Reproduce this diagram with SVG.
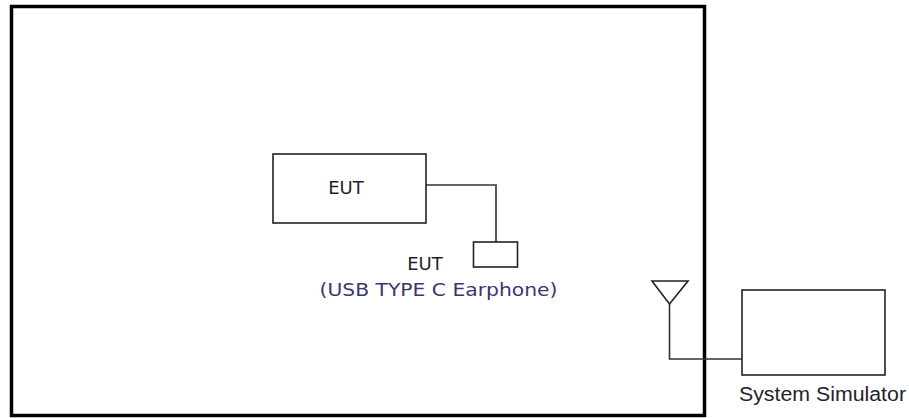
<svg xmlns="http://www.w3.org/2000/svg" width="909" height="418" viewBox="0 0 909 418">
<style>
.box{fill:none;stroke:#222;stroke-width:1.6}
.wire{fill:none;stroke:#333;stroke-width:1.6}
.lbl{font-family:"DejaVu Sans","Noto Sans",sans-serif;font-size:18px;fill:#1e1e2a}
.sub{font-family:"DejaVu Sans","Noto Sans",sans-serif;font-size:18px;fill:#3a3670}
.sim{font-family:"Liberation Sans",Arial,sans-serif;font-size:20px;fill:#23232e}
</style>
<rect width="909" height="418" fill="#fff"/>
<g id="chamber"><rect x="11.5" y="6.5" width="693" height="409" fill="none" stroke="#000" stroke-width="3.5"/></g>
<g id="connectors">
<polyline class="wire" points="426,185 496,185 496,242"/>
<polyline class="wire" points="669.5,304 669.5,359 742,359"/>
</g>
<g id="eut"><rect class="box" x="273" y="154" width="153" height="69"/><text class="lbl" x="346" y="194" text-anchor="middle">EUT</text></g>
<g id="earphone"><rect class="box" x="473.5" y="242" width="44" height="25"/><text class="lbl" x="425" y="270" text-anchor="middle">EUT</text><text class="sub" x="319.5" y="296" textLength="238" lengthAdjust="spacingAndGlyphs">(USB TYPE C Earphone)</text></g>
<g id="antenna"><polygon class="box" points="652,281 688,281 669.5,304"/></g>
<g id="simulator"><rect class="box" x="742" y="290" width="143" height="85"/><text class="sim" x="739" y="401" textLength="167" lengthAdjust="spacingAndGlyphs">System Simulator</text></g>
</svg>
